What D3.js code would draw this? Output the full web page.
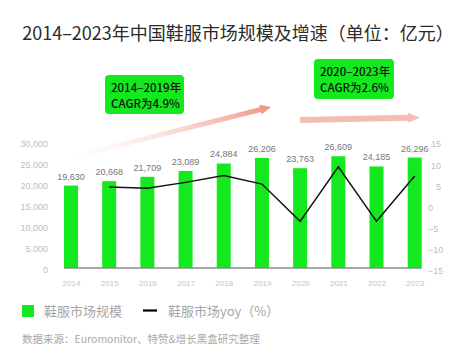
<!DOCTYPE html>
<html>
<head>
<meta charset="utf-8">
<script src="https://cdn.jsdelivr.net/npm/d3@7/dist/d3.min.js"></script>
<style>
  html, body { margin: 0; padding: 0; background: #fff; }
  svg { display: block; font-family: "Noto Sans CJK SC", "Liberation Sans", sans-serif; }
</style>
</head>
<body>
<svg id="chart" width="474" height="348"></svg>
<script>
// Market size (亿元) and year-over-year growth (%)
const years = [2014, 2015, 2016, 2017, 2018, 2019, 2020, 2021, 2022, 2023];
const marketSize = [19630, 20668, 21709, 23089, 24884, 26206, 23763, 26609, 24185, 26296];
const yoyYears = [2015, 2016, 2017, 2018, 2019, 2020, 2021, 2022, 2023];
const yoyValues = [4.6, 4.3, 5.7, 7.3, 5.3, -3.5, 9.4, -3.5, 7.2];
const leftTicks = [0, 5000, 10000, 15000, 20000, 25000, 30000];
const rightTicks = [-15, -10, -5, 0, 5, 10, 15];
const cagrNotes = [
  { lines: ["2014–2019年", "CAGR为4.9%"] },
  { lines: ["2020–2023年", "CAGR为2.6%"] }
];

const GREEN = "#14E81E";
const svg = d3.select("#chart");

const x = d3.scalePoint().domain(years).range([71, 414.7]);
const yL = d3.scaleLinear().domain([0, 30000]).range([268, 142]);
const yR = d3.scaleLinear().domain([-15, 15]).range([270, 143]);
const barW = 14;

// title
svg.append("text").attr("x", 238).attr("y", 40).attr("text-anchor", "middle")
  .attr("font-size", 18).attr("font-weight", 400).attr("fill", "#2b2b2b")
  .text("2014–2023年中国鞋服市场规模及增速（单位：亿元）");

// left axis
const axL = svg.append("g").attr("transform", "translate(48,2)")
  .call(d3.axisLeft(yL).tickValues(leftTicks).tickSize(0).tickPadding(0)
    .tickFormat(d3.format(",")));
axL.select(".domain").remove();
axL.selectAll("text").attr("font-family", "Liberation Sans, sans-serif")
  .attr("font-size", 9).attr("fill", "#bdbdbd");

// right axis
const axR = svg.append("g").attr("transform", "translate(441,1)")
  .call(d3.axisRight(yR).tickValues(rightTicks).tickSize(0).tickPadding(0)
    .tickFormat(d => d < 0 ? "−" + Math.abs(d) : String(d)));
axR.select(".domain").remove();
axR.selectAll("text").attr("font-family", "Liberation Sans, sans-serif")
  .attr("font-size", 9).attr("fill", "#bdbdbd")
  .attr("text-anchor", d => d > 0 ? "end" : "start")
  .attr("x", d => d > 0 ? 0 : -13);

// bars
svg.append("g").selectAll("rect").data(years).join("rect")
  .attr("x", (d) => x(d) - barW / 2)
  .attr("y", (d, i) => yL(marketSize[i]))
  .attr("width", barW)
  .attr("height", (d, i) => yL(0) - yL(marketSize[i]))
  .attr("fill", GREEN);

// bar value labels
svg.append("g").selectAll("text").data(years).join("text")
  .attr("x", d => x(d))
  .attr("y", (d, i) => yL(marketSize[i]) - 6)
  .attr("text-anchor", "middle")
  .attr("font-family", "Liberation Sans, sans-serif")
  .attr("font-size", 9).attr("fill", "#777")
  .text((d, i) => d3.format(",")(marketSize[i]));

// baseline
svg.append("line")
  .attr("x1", x(years[0]) - barW / 2).attr("x2", x(years[years.length - 1]) + barW / 2)
  .attr("y1", yL(0)).attr("y2", yL(0))
  .attr("stroke", "#8a8a8a").attr("stroke-width", 1.5);

// x axis labels
const axX = svg.append("g").attr("transform", "translate(0,280)")
  .call(d3.axisBottom(x).tickSize(0).tickPadding(0));
axX.select(".domain").remove();
axX.selectAll("text").attr("font-family", "Liberation Sans, sans-serif")
  .attr("font-size", 8).attr("fill", "#c4c4c4");

// yoy line
svg.append("path")
  .datum(yoyYears.map((yr, i) => [yr, yoyValues[i]]))
  .attr("d", d3.line().x(d => x(d[0])).y(d => yR(d[1])))
  .attr("fill", "none").attr("stroke", "#111").attr("stroke-width", 1.5);

// trend arrows with gradient
const defs = svg.append("defs");
function arrow(id, x1, y1, x2, y2, shaftW, headL, headW, c0, o0, c1) {
  const g = defs.append("linearGradient").attr("id", id)
    .attr("gradientUnits", "userSpaceOnUse")
    .attr("x1", x1).attr("y1", y1).attr("x2", x2).attr("y2", y2);
  g.append("stop").attr("offset", 0).attr("stop-color", c0).attr("stop-opacity", o0);
  g.append("stop").attr("offset", 1).attr("stop-color", c1).attr("stop-opacity", 1);
  const len = Math.hypot(x2 - x1, y2 - y1);
  const ang = Math.atan2(y2 - y1, x2 - x1) * 180 / Math.PI;
  const s = shaftW / 2, h = headW / 2, b = len - headL;
  const pts = [[0, -s], [b, -s], [b, -h], [len, 0], [b, h], [b, s], [0, s]];
  svg.append("path")
    .attr("transform", `translate(${x1},${y1}) rotate(${ang})`)
    .attr("d", "M" + pts.map(p => p.join(",")).join("L") + "Z")
    .attr("fill", `url(#${id})`);
}
arrow("ar1", 56, 161, 271, 107, 5, 11, 10, "#fbe0da", 0, "#ec7c69");
arrow("ar2", 300, 120, 420, 117.5, 6, 12, 10, "#f5bcb1", 1, "#ec7c69");

// CAGR callouts
const boxes = [
  { x: 105, y: 75, w: 79, h: 39 },
  { x: 314, y: 59, w: 80, h: 40 }
];
cagrNotes.forEach((n, i) => {
  const b = boxes[i];
  svg.append("rect").attr("x", b.x).attr("y", b.y).attr("width", b.w).attr("height", b.h)
    .attr("rx", 4).attr("fill", GREEN);
  n.lines.forEach((t, j) => {
    svg.append("text").attr("x", b.x + 6).attr("y", b.y + 17 + j * 15.5)
      .attr("font-size", 11.5).attr("font-weight", 500).attr("fill", "#111").text(t);
  });
});

// legend
const lg = svg.append("g");
lg.append("rect").attr("x", 22).attr("y", 305).attr("width", 12).attr("height", 12).attr("fill", GREEN);
lg.append("text").attr("x", 44).attr("y", 316).attr("font-size", 13).attr("fill", "#a6a6a6").text("鞋服市场规模");
lg.append("line").attr("x1", 143).attr("x2", 157).attr("y1", 310.5).attr("y2", 310.5)
  .attr("stroke", "#000").attr("stroke-width", 2.2);
lg.append("text").attr("x", 168).attr("y", 316).attr("font-size", 13).attr("fill", "#a6a6a6").text("鞋服市场yoy（%）");

// source note
svg.append("text").attr("x", 22).attr("y", 343).attr("font-size", 10.5).attr("fill", "#a8a8a8")
  .text("数据来源：Euromonitor、特赞&增长黑盒研究整理");
</script>
</body>
</html>
